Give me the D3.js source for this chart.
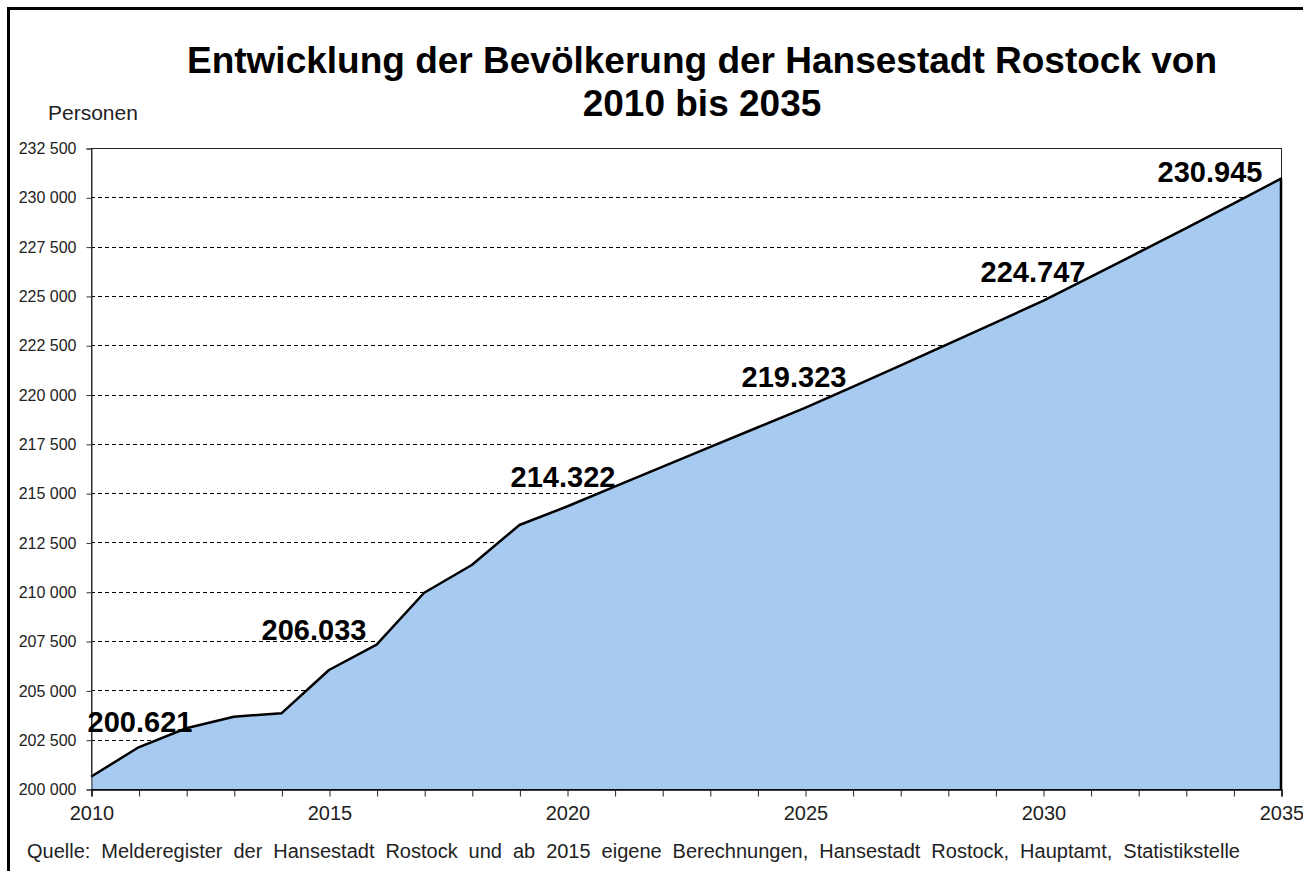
<!DOCTYPE html>
<html>
<head>
<meta charset="utf-8">
<script src="https://cdn.jsdelivr.net/npm/d3@7"></script>
<style>
  html, body { margin: 0; padding: 0; background: #fff; }
  svg { display: block; }
  text { font-family: "Liberation Sans", Arial, sans-serif; }
</style>
</head>
<body>
<svg id="chart" width="1303" height="871"></svg>
<script>
// ---- data ----
const years = [2010, 2011, 2012, 2013, 2014, 2015, 2016, 2017, 2018, 2019, 2020, 2021, 2022,
               2023, 2024, 2025, 2026, 2027, 2028, 2029, 2030, 2031, 2032, 2033, 2034, 2035];
const population = [200621, 202114, 203080, 203666, 203838, 206033, 207320, 209950, 211357, 213385,
                    214322, 215330, 216330, 217330, 218330, 219323, 220390, 221470, 222560, 223650,
                    224747, 225960, 227190, 228430, 229680, 230945];
const labelYears = [2010, 2015, 2020, 2025, 2030, 2035];
const labelTexts = ["200.621", "206.033", "214.322", "219.323", "224.747", "230.945"];
const yTicks = [200000, 202500, 205000, 207500, 210000, 212500, 215000, 217500, 220000, 222500,
                225000, 227500, 230000, 232500];
const xTickLabels = [2010, 2015, 2020, 2025, 2030, 2035];
const titleLines = ["Entwicklung der Bevölkerung der Hansestadt Rostock von", "2010 bis 2035"];
const yAxisTitle = "Personen";
const sourceText = "Quelle: Melderegister der Hansestadt Rostock und ab 2015 eigene Berechnungen, Hansestadt Rostock, Hauptamt, Statistikstelle";

// ---- layout ----
const plot = { left: 91, right: 1281, top: 148, bottom: 789 };
const labelOffsets = [[49, -45], [-15, -30], [-4, -20], [-11, -21], [-10, -19], [-71, 3]];

const svg = d3.select("#chart");
const x = d3.scaleLinear().domain([2010, 2035]).range([plot.left, plot.right]);
const y = d3.scaleLinear().domain([200000, 232500]).range([plot.bottom, plot.top]);

// outer frame
svg.append("rect").attr("x", 8.5).attr("y", 8.5).attr("width", 1400).attr("height", 1000)
  .attr("fill", "none").attr("stroke", "#000").attr("stroke-width", 3);

// title
const title = svg.append("text").attr("text-anchor", "middle")
  .attr("font-weight", "bold").attr("font-size", 37).attr("fill", "#000");
title.selectAll("tspan").data(titleLines).join("tspan")
  .attr("x", 702).attr("y", (d, i) => 73 + i * 43).text(d => d);

// y axis title
svg.append("text").attr("x", 48).attr("y", 120).attr("font-size", 21).attr("fill", "#222")
  .text(yAxisTitle);

// gridlines
const fmt = d => d3.format(",")(d).replace(/,/g, " ");
svg.append("g").selectAll("line").data(yTicks.filter(d => d !== 200000 && d !== 232500)).join("line")
  .attr("x1", plot.left).attr("x2", plot.right)
  .attr("y1", d => Math.round(y(d)) + 0.5).attr("y2", d => Math.round(y(d)) + 0.5)
  .attr("stroke", "#000").attr("stroke-width", 1).attr("stroke-dasharray", "4,3");

// plot border
svg.append("rect").attr("x", plot.left + 0.5).attr("y", plot.top + 0.5)
  .attr("width", plot.right - plot.left).attr("height", plot.bottom - plot.top)
  .attr("fill", "none").attr("stroke", "#222").attr("stroke-width", 1);

// area
const pts = years.map((yr, i) => [yr, population[i]]);
const area = d3.area().x(d => x(d[0])).y0(y(200000)).y1(d => y(d[1]));
svg.append("path").datum(pts).attr("d", area).attr("fill", "#a6caf0");
const outline = pts.concat([[years[years.length - 1], 200000]]);
svg.append("path").datum(outline)
  .attr("d", d3.line().x(d => x(d[0])).y(d => y(d[1])))
  .attr("fill", "none").attr("stroke", "#000").attr("stroke-width", 2.5)
  .attr("stroke-linejoin", "round");

// y axis
const yAxis = d3.axisLeft(y).tickValues(yTicks).tickSize(5).tickPadding(10).tickFormat(fmt);
const gy = svg.append("g").attr("transform", `translate(${plot.left + 0.5},0.5)`).call(yAxis);
gy.select(".domain").attr("stroke", "#333");
gy.selectAll(".tick line").attr("stroke", "#333");
gy.selectAll("text").attr("font-size", 16).attr("fill", "#222")
  .attr("font-family", "'Liberation Sans', Arial, sans-serif");

// x axis
const xAxis = d3.axisBottom(x).tickValues(years).tickSize(7).tickPadding(9)
  .tickFormat(d => xTickLabels.includes(d) ? d : "");
const gx = svg.append("g").attr("transform", `translate(0.5,${plot.bottom + 0.5})`).call(xAxis);
gx.select(".domain").attr("stroke", "#000").attr("stroke-width", 1.5);
gx.selectAll(".tick line").attr("stroke", "#222");
gx.selectAll("text").attr("font-size", 20).attr("fill", "#222")
  .attr("font-family", "'Liberation Sans', Arial, sans-serif");

// data labels
svg.append("g").selectAll("text").data(labelYears).join("text")
  .attr("x", (d, i) => x(d) + labelOffsets[i][0])
  .attr("y", (d, i) => y(population[years.indexOf(d)]) + labelOffsets[i][1])
  .attr("text-anchor", "middle").attr("font-weight", "bold").attr("font-size", 29).attr("fill", "#000")
  .text((d, i) => labelTexts[i]);

// source
const src = svg.append("text").attr("x", 27).attr("y", 858).attr("font-size", 20).attr("fill", "#222")
  .text(sourceText);
const natural = src.node().getComputedTextLength();
const spaces = sourceText.split(" ").length - 1;
src.attr("word-spacing", Math.max(0, (1213 - natural) / spaces));
</script>
</body>
</html>
